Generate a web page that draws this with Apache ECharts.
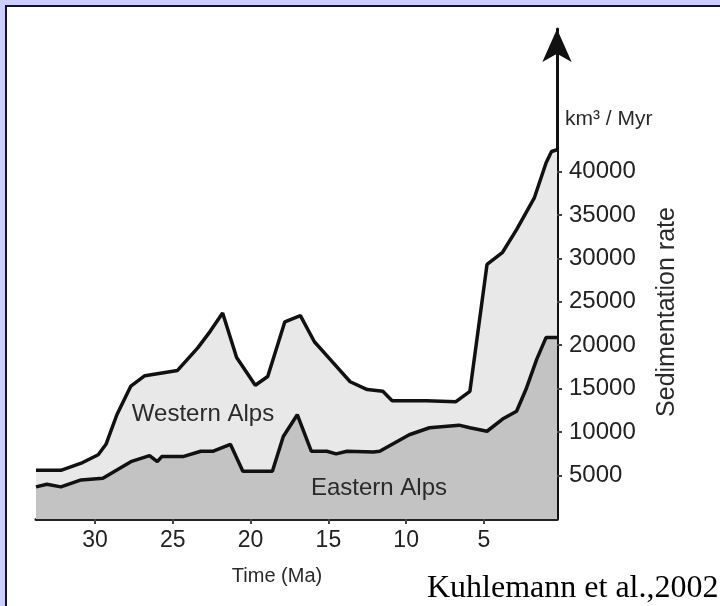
<!DOCTYPE html>
<html>
<head>
<meta charset="utf-8">
<title>Sedimentation rate</title>
<script src="https://cdn.jsdelivr.net/npm/echarts@6/dist/echarts.min.js"></script>
<style>
  html, body { margin: 0; padding: 0; background: #ccccff; }
  .frame {
    position: absolute; left: 5px; top: 5px; width: 713px; height: 599px;
    background: #fff; border-left: 2px solid #151515; border-top: 2px solid #151515;
  }
  #main { position: absolute; left: 0; top: 0; width: 720px; height: 606px; }
</style>
</head>
<body>
<div class="frame"></div>
<div id="main"></div>
<script>
// time in Ma, rate in km3/Myr
const westernAge = [33.8, 32.2, 30.8, 29.8, 29.3, 28.6, 27.7, 26.8, 24.7, 23.4, 22.6, 21.8, 20.9, 19.7, 18.9, 17.8, 16.8, 15.9, 14.9, 13.6, 12.5, 11.5, 10.9, 8.7, 6.8, 5.9, 4.8, 3.8, 2.9, 1.75, 1.0, 0.65, 0.3];
const westernRate = [5600, 5600, 6500, 7400, 8600, 12000, 15300, 16500, 17100, 19700, 21600, 23700, 18600, 15400, 16400, 22700, 23400, 20400, 18400, 15800, 14900, 14700, 13600, 13600, 13500, 14700, 29300, 30700, 33300, 37000, 41000, 42300, 42500];

const easternAge = [33.8, 33.1, 32.2, 30.9, 29.5, 27.7, 26.5, 26.0, 25.7, 24.3, 23.2, 22.4, 21.3, 20.5, 18.6, 17.9, 17.0, 16.1, 15.1, 14.5, 13.8, 12.1, 11.7, 9.8, 8.5, 6.6, 5.9, 4.8, 3.8, 2.9, 2.3, 1.6, 1.0, 0.3];
const easternRate = [3700, 4000, 3700, 4500, 4700, 6600, 7300, 6600, 7200, 7200, 7800, 7800, 8600, 5500, 5500, 9500, 12000, 7800, 7800, 7500, 7800, 7700, 7800, 9700, 10500, 10800, 10500, 10100, 11500, 12400, 14900, 18400, 20900, 20900];

const xTicks = [5, 10, 15, 20, 25, 30];
const yTicks = [5000, 10000, 15000, 20000, 25000, 30000, 35000, 40000];

const pairs = (a, b) => a.map((v, i) => [v, b[i]]);
const sans = '"Liberation Sans", Arial, sans-serif';

const chart = echarts.init(document.getElementById('main'));
chart.setOption({
  animation: false,
  backgroundColor: 'transparent',
  grid: { left: 36, right: 163, top: 29, bottom: 87 },
  xAxis: {
    type: 'value',
    inverse: true,
    min: 0.3,
    max: 33.8,
    axisLine: { onZero: false, lineStyle: { color: '#222', width: 3 } },
    axisTick: { show: true, customValues: xTicks, length: 5, lineStyle: { color: '#444', width: 2 } },
    axisLabel: { customValues: xTicks, margin: 10, fontSize: 23, color: '#222', fontFamily: sans },
    splitLine: { show: false }
  },
  yAxis: {
    type: 'value',
    position: 'right',
    min: 0,
    max: 56400,
    axisLine: {
      show: true, onZero: false,
      symbol: ['none', 'arrow'], symbolSize: [22, 33],
      lineStyle: { color: '#111', width: 3 }
    },
    axisTick: { show: true, customValues: yTicks, length: 5, lineStyle: { color: '#444', width: 2 } },
    axisLabel: {
      customValues: yTicks, margin: 12, fontSize: 24, color: '#222', fontFamily: sans,
      formatter: v => String(v)
    },
    splitLine: { show: false }
  },
  series: [
    {
      name: 'Western Alps',
      type: 'line',
      data: pairs(westernAge, westernRate),
      showSymbol: false,
      lineStyle: { color: '#111', width: 3.5 },
      areaStyle: { color: '#e8e8e8', opacity: 1 },
      z: 2
    },
    {
      name: 'Eastern Alps',
      type: 'line',
      data: pairs(easternAge, easternRate),
      showSymbol: false,
      lineStyle: { color: '#111', width: 3.5 },
      areaStyle: { color: '#c3c3c3', opacity: 1 },
      z: 3
    }
  ],
  graphic: [
    { type: 'text', x: 203, y: 414, z: 10,
      style: { text: 'Western Alps', font: '24px ' + sans, fill: '#2a2a2a', textAlign: 'center', align: 'center', textVerticalAlign: 'middle', verticalAlign: 'middle' } },
    { type: 'text', x: 379, y: 488, z: 10,
      style: { text: 'Eastern Alps', font: '24px ' + sans, fill: '#2a2a2a', textAlign: 'center', align: 'center', textVerticalAlign: 'middle', verticalAlign: 'middle' } },
    { type: 'text', x: 565, y: 119, z: 10,
      style: { text: 'km³ / Myr', font: '21px ' + sans, fill: '#2a2a2a', textAlign: 'left', align: 'left', textVerticalAlign: 'middle', verticalAlign: 'middle' } },
    { type: 'text', x: 667, y: 312, rotation: Math.PI / 2, z: 10,
      style: { text: 'Sedimentation rate', font: '25px ' + sans, fill: '#2a2a2a', textAlign: 'center', align: 'center', textVerticalAlign: 'middle', verticalAlign: 'middle' } },
    { type: 'text', x: 277, y: 576, z: 10,
      style: { text: 'Time (Ma)', font: '20px ' + sans, fill: '#2a2a2a', textAlign: 'center', align: 'center', textVerticalAlign: 'middle', verticalAlign: 'middle' } },
    { type: 'text', x: 427, y: 589, z: 10,
      style: { text: 'Kuhlemann et al.,2002', font: '32px "Liberation Serif", "Times New Roman", serif', fill: '#000', textAlign: 'left', align: 'left', textVerticalAlign: 'middle', verticalAlign: 'middle' } }
  ]
});
</script>
</body>
</html>
